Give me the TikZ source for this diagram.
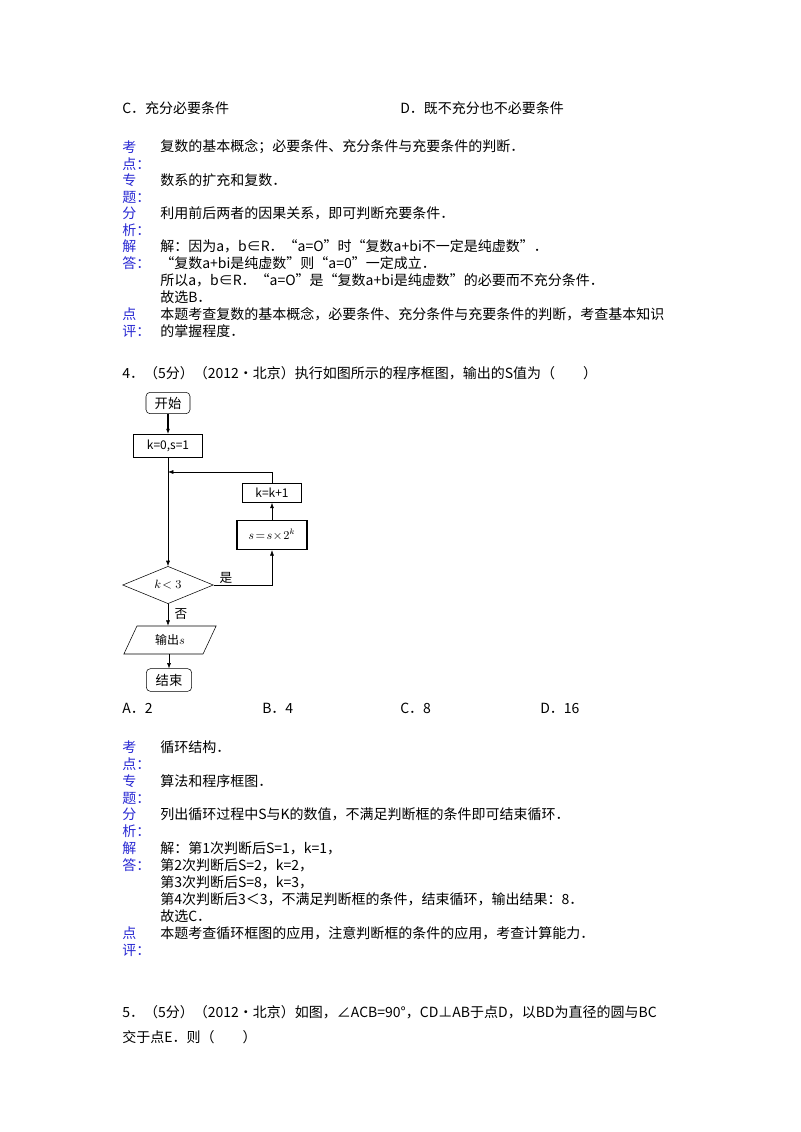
\documentclass[tikz,border=0pt]{standalone}
\usepackage{fontspec}
\setmainfont{Noto Sans CJK SC}
\usetikzlibrary{shapes.geometric,arrows.meta}
\definecolor{lab}{RGB}{40,40,210}
\begin{document}
\begin{tikzpicture}[x=0.75pt,y=-0.75pt,
  t/.style={anchor=west,inner sep=0pt,font=\fontsize{10.5pt}{12pt}\selectfont},
  lb/.style={t,text=lab},
  box/.style={draw,thick,minimum width=#1*0.75pt,inner sep=1pt,font=\fontsize{9pt}{10pt}\selectfont},
  rbox/.style={draw,rounded corners=3pt,inner sep=2pt,font=\fontsize{10pt}{11pt}\selectfont},
  ar/.style={-{Latex[length=4pt,width=3pt]}}]
\useasboundingbox (0,0) rectangle (800,1132);
\node[t] (c) at (122,108) {C．充分必要条件};
\node[t] (d) at (400,108) {D．既不充分也不必要条件};
\node[lb] (l1) at (122,147) {考}; \node[lb] (l1b) at (122,164) {点：};
\node[t] (t1) at (160,147) {复数的基本概念；必要条件、充分条件与充要条件的判断．};
\node[lb] (l2) at (122,180) {专}; \node[lb] (l2b) at (122,197) {题：};
\node[t] (t2) at (160,180) {数系的扩充和复数．};
\node[lb] (l3) at (122,213) {分}; \node[lb] (l3b) at (122,230) {析：};
\node[t] (t3) at (160,213) {利用前后两者的因果关系，即可判断充要条件．};
\node[lb] (l4) at (122,246) {解}; \node[lb] (l4b) at (122,263) {答：};
\node[t] (t4) at (160,246) {解：因为a，b∈R．“a=O”时“复数a+bi不一定是纯虚数”．};
\node[t] (t5) at (160,263) {“复数a+bi是纯虚数”则“a=0”一定成立．};
\node[t] (t6) at (160,280) {所以a，b∈R．“a=O”是“复数a+bi是纯虚数”的必要而不充分条件．};
\node[t] (t7) at (160,297) {故选B．};
\node[lb] (l5) at (122,314) {点}; \node[lb] (l5b) at (122,331) {评：};
\node[t] (t8) at (160,314) {本题考查复数的基本概念，必要条件、充分条件与充要条件的判断，考查基本知识};
\node[t] (t9) at (160,331) {的掌握程度．};
\node[t] (q4) at (122,373) {4．（5分）（2012•北京）执行如图所示的程序框图，输出的S值为（\quad\quad）};
% flowchart
\node[rbox,minimum width=33pt,minimum height=16pt] (start) at (168,403) {开始};
\node[box=69,minimum height=17pt] (init) at (168,446) {k=0,s=1};
\node[box=59,minimum height=14pt] (inc) at (272,493) {k=k+1};
\node[box=70,minimum height=22pt] (mul) at (272,535) {$s\!=\!s\!\times\!2^k$};
\node[draw,diamond,aspect=2.46,inner sep=0pt,minimum width=68pt,minimum height=28pt,font=\fontsize{9pt}{10pt}\selectfont] (dec) at (168,585) {$k\!<3$};
\node[draw,trapezium,trapezium left angle=65,trapezium right angle=115,inner sep=1pt,minimum width=44pt,minimum height=21pt,font=\fontsize{9pt}{10pt}\selectfont] (out) at (170,640) {输出$s$};
\node[rbox,minimum width=34pt,minimum height=17pt] (end) at (169,680) {结束};
\coordinate (j) at (168,472);
\draw[ar,thick] (start) -- (init);
\draw[ar] (init) -- (dec);
\draw[ar] (dec.east) -| (mul.south);
\draw[ar] (mul) -- (inc);
\draw[ar] (inc.north) |- (j);
\draw[ar] (dec.south) -- (out.north -| dec.south);
\draw[ar] (out.south -| end.north) -- (end);
\node[font=\fontsize{9.5pt}{10pt}\selectfont] (yes) at (226,578) {是};
\node[font=\fontsize{9.5pt}{10pt}\selectfont] (no) at (181,614) {否};
\node[t] (oa) at (122,708) {A．2}; \node[t] (ob) at (262,708) {B．4};
\node[t] (oc) at (400,708) {C．8}; \node[t] (od) at (540,708) {D．16};
\node[lb] (m1) at (122,747) {考}; \node[lb] (m1b) at (122,764) {点：};
\node[t] (s1) at (160,747) {循环结构．};
\node[lb] (m2) at (122,781) {专}; \node[lb] (m2b) at (122,798) {题：};
\node[t] (s2) at (160,781) {算法和程序框图．};
\node[lb] (m3) at (122,814) {分}; \node[lb] (m3b) at (122,831) {析：};
\node[t] (s3) at (160,814) {列出循环过程中S与K的数值，不满足判断框的条件即可结束循环．};
\node[lb] (m4) at (122,848) {解}; \node[lb] (m4b) at (122,865) {答：};
\node[t] (s4) at (160,848) {解：第1次判断后S=1，k=1，};
\node[t] (s5) at (160,865) {第2次判断后S=2，k=2，};
\node[t] (s6) at (160,882) {第3次判断后S=8，k=3，};
\node[t] (s7) at (160,899) {第4次判断后3＜3，不满足判断框的条件，结束循环，输出结果：8．};
\node[t] (s8) at (160,916) {故选C．};
\node[lb] (m5) at (122,933) {点}; \node[lb] (m5b) at (122,950) {评：};
\node[t] (s9) at (160,933) {本题考查循环框图的应用，注意判断框的条件的应用，考查计算能力．};
\node[t] (q5) at (122,1012) {5．（5分）（2012•北京）如图，∠ACB=90°，CD⊥AB于点D，以BD为直径的圆与BC};
\node[t] (q5b) at (122,1037) {交于点E．则（\quad\quad）};
\end{tikzpicture}
\end{document}
